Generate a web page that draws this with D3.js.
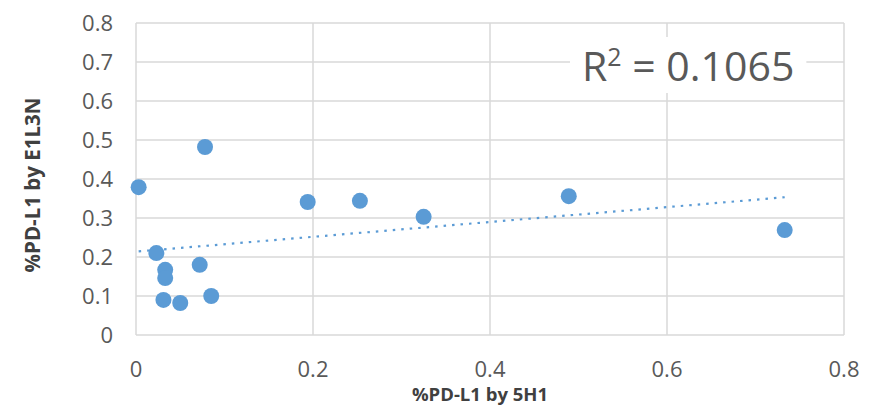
<!DOCTYPE html>
<html lang="en">
    <head>
        <meta charset="utf-8">
        <title>PD-L1 scatter</title>
        <script src="https://d3js.org/d3.v7.min.js"></script>
        <style>
            body { margin: 0; background: white; }
            .tick-label { font-family: "Open Sans", sans-serif; font-size: 22px; fill: #595959; }
            .axis-title { font-family: "Open Sans", sans-serif; font-weight: bold; fill: #404040; }
            .grid line { stroke: #d9d9d9; stroke-width: 1.5; }
            .trend { fill: none; stroke: #5b9bd5; stroke-width: 2.2; stroke-dasharray: 2.5,6; }
            .r2 { font-family: "Open Sans", sans-serif; font-size: 41px; fill: #595959; }
        </style>
    </head>
    <body>
        <div id="chart"></div>
        <script type="text/javascript">
            // data
            var xValues = [0.003, 0.078, 0.023, 0.033, 0.033, 0.031, 0.050, 0.072, 0.085, 0.194, 0.253, 0.325, 0.489, 0.733];
            var yValues = [0.379, 0.482, 0.210, 0.167, 0.146, 0.090, 0.082, 0.180, 0.100, 0.341, 0.344, 0.303, 0.356, 0.269];
            var xTicks = [0, 0.2, 0.4, 0.6, 0.8];
            var yTicks = [0, 0.1, 0.2, 0.3, 0.4, 0.5, 0.6, 0.7, 0.8];
            var xTitle = "%PD-L1 by 5H1";
            var yTitle = "%PD-L1 by E1L3N";
            var r2Label = "0.1065";

            var w = 871;
            var h = 410;
            var pLeft = 136, pRight = 844, pTop = 23, pBottom = 335;

            var svg = d3.select("#chart").append("svg").attr("width", w).attr("height", h);

            var xScale = d3.scaleLinear().domain([0, 0.8]).range([pLeft, pRight]);
            var yScale = d3.scaleLinear().domain([0, 0.8]).range([pBottom, pTop]);

            // gridlines
            var grid = svg.append("g").attr("class", "grid");
            grid.selectAll("line.h").data(yTicks).enter().append("line").attr("class", "h")
                .attr("x1", pLeft).attr("x2", pRight)
                .attr("y1", function(d) { return yScale(d); }).attr("y2", function(d) { return yScale(d); });
            grid.selectAll("line.v").data(xTicks).enter().append("line").attr("class", "v")
                .attr("y1", pTop).attr("y2", pBottom)
                .attr("x1", function(d) { return xScale(d); }).attr("x2", function(d) { return xScale(d); });

            // tick labels
            var fmt = function(d) { return d === 0 ? "0" : d3.format(".1f")(d); };
            svg.selectAll("text.ytick").data(yTicks).enter().append("text").attr("class", "tick-label ytick")
                .attr("x", pLeft - 23).attr("y", function(d) { return yScale(d) + 8; })
                .attr("text-anchor", "end").text(fmt);
            svg.selectAll("text.xtick").data(xTicks).enter().append("text").attr("class", "tick-label xtick")
                .attr("x", function(d) { return xScale(d); }).attr("y", pBottom + 42)
                .attr("text-anchor", "middle").text(fmt);

            // axis titles
            svg.append("text").attr("class", "axis-title").attr("x", 480).attr("y", 401)
                .attr("font-size", "18.5px").attr("text-anchor", "middle").text(xTitle);
            svg.append("text").attr("class", "axis-title").attr("text-anchor", "middle")
                .attr("font-size", "20.5px")
                .attr("transform", "translate(40,185) rotate(-90)").text(yTitle);

            // linear trendline (least squares)
            var mx = d3.mean(xValues), my = d3.mean(yValues);
            var sxy = d3.sum(xValues, function(x, i) { return (x - mx) * (yValues[i] - my); });
            var sxx = d3.sum(xValues, function(x) { return (x - mx) * (x - mx); });
            var slope = sxy / sxx;
            var intercept = my - slope * mx;
            var x0 = d3.min(xValues), x1 = d3.max(xValues);
            svg.append("line").attr("class", "trend")
                .attr("x1", xScale(x0)).attr("y1", yScale(intercept + slope * x0))
                .attr("x2", xScale(x1)).attr("y2", yScale(intercept + slope * x1));

            // points
            svg.selectAll("circle").data(xValues).enter().append("circle")
                .attr("cx", function(d) { return xScale(d); })
                .attr("cy", function(d, i) { return yScale(yValues[i]); })
                .attr("r", 8).style("fill", "#5b9bd5");

            // R squared label with white box
            var lab = svg.append("g");
            var box = lab.append("rect").attr("fill", "white");
            var t = lab.append("text").attr("class", "r2").attr("x", 582).attr("y", 81);
            t.append("tspan").text("R");
            t.append("tspan").attr("dy", -15).attr("font-size", "25px").text("2");
            t.append("tspan").attr("dy", 15).text(" = " + r2Label);
            var bb = t.node().getBBox();
            box.attr("x", bb.x - 12).attr("y", bb.y).attr("width", bb.width + 24).attr("height", bb.height);
        </script>
    </body>
</html>
